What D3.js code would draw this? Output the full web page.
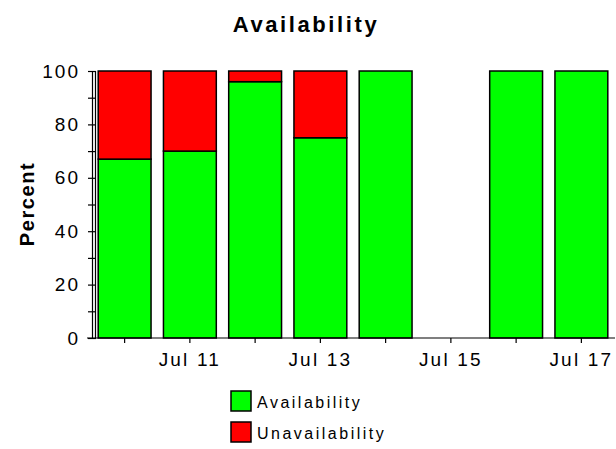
<!DOCTYPE html>
<html>
<head>
<meta charset="utf-8">
<script src="https://cdn.jsdelivr.net/npm/d3@7"></script>
<style>
  html, body { margin: 0; padding: 0; background: #fff; }
  svg { display: block; font-family: "Liberation Sans", Arial, sans-serif; }
</style>
</head>
<body>
<div id="chart"></div>
<script>
// Daily availability, in percent
const days = ['Jul 10', 'Jul 11', 'Jul 12', 'Jul 13', 'Jul 14', 'Jul 15', 'Jul 16', 'Jul 17'];
const availability = [67, 70, 96, 75, 100, 0, 100, 100];
const unavailability = [33, 30, 4, 25, 0, 0, 0, 0];
const labelledDays = ['Jul 11', 'Jul 13', 'Jul 15', 'Jul 17'];
const yTicks = [0, 10, 20, 30, 40, 50, 60, 70, 80, 90, 100];
const seriesNames = ['Availability', 'Unavailability'];
const seriesColors = ['#00ff00', '#ff0000'];

const width = 616, height = 449;
const margin = { top: 71, right: 2, bottom: 111, left: 92 };

const svg = d3.select('#chart').append('svg')
    .attr('width', width)
    .attr('height', height);

const x = d3.scaleBand()
    .domain(days)
    .range([margin.left, width - margin.right])
    .paddingInner(0.19)
    .paddingOuter(0.095);

const y = d3.scaleLinear()
    .domain([0, 100])
    .range([height - margin.bottom, margin.top]);

// title
svg.append('text')
    .attr('x', 306)
    .attr('y', 32)
    .attr('text-anchor', 'middle')
    .attr('font-size', '22px')
    .attr('font-weight', 'bold')
    .attr('letter-spacing', '2.6px')
    .text('Availability');

// y label
svg.append('text')
    .attr('transform', 'translate(34,204) rotate(-90)')
    .attr('text-anchor', 'middle')
    .attr('font-size', '20px')
    .attr('font-weight', 'bold')
    .attr('letter-spacing', '1.6px')
    .text('Percent');

// stacked bars
const rows = days.map((d, i) => ({ day: d, a: availability[i], u: unavailability[i] }));
const stacked = d3.stack().keys(['a', 'u'])(rows);

svg.append('g').selectAll('g')
    .data(stacked)
    .join('g')
    .attr('fill', (s, i) => seriesColors[i])
    .selectAll('rect')
    .data(s => s.filter(v => v[1] - v[0] > 0))
    .join('rect')
    .attr('x', v => x(v.data.day))
    .attr('width', x.bandwidth())
    .attr('y', v => y(v[1]))
    .attr('height', v => y(v[0]) - y(v[1]))
    .attr('stroke', '#000')
    .attr('stroke-width', 1.5);

// y axis
const yAxis = svg.append('g')
    .attr('transform', `translate(${margin.left},0)`)
    .call(d3.axisLeft(y)
        .tickValues(yTicks)
        .tickSize(4)
        .tickSizeOuter(0)
        .tickPadding(8)
        .tickFormat(v => v % 20 === 0 ? v : ''));
yAxis.select('.domain').attr('stroke', '#000').attr('stroke-width', 1.2);
yAxis.selectAll('.tick line').attr('x1', 4).attr('stroke-width', 1.2);
yAxis.selectAll('.tick text')
    .attr('font-size', '19px')
    .attr('letter-spacing', '2px')
    .attr('fill', '#000')
    .attr('font-family', '"Liberation Sans", Arial, sans-serif');
yAxis.append('line')
    .attr('x1', 3.5).attr('x2', 3.5)
    .attr('y1', y(0)).attr('y2', y(100))
    .attr('stroke', '#000')
    .attr('stroke-width', 1.2);

// x axis
const xAxis = svg.append('g')
    .attr('transform', `translate(0,${y(0)})`)
    .call(d3.axisBottom(x)
        .tickSize(5)
        .tickSizeOuter(0)
        .tickPadding(10)
        .tickFormat(d => labelledDays.includes(d) ? d : ''));
xAxis.select('.domain')
    .attr('d', `M${margin.left - 5},0H${width - 1}`)
    .attr('stroke', '#000')
    .attr('stroke-width', 1.2);
xAxis.selectAll('.tick line').attr('stroke-width', 1.2);
xAxis.selectAll('.tick text')
    .attr('font-size', '19px')
    .attr('letter-spacing', '2.2px')
    .attr('fill', '#000')
    .attr('font-family', '"Liberation Sans", Arial, sans-serif');

// legend
const legend = svg.append('g')
    .attr('transform', 'translate(231,391)')
    .selectAll('g')
    .data(seriesNames)
    .join('g')
    .attr('transform', (d, i) => `translate(0,${i * 31})`);
legend.append('rect')
    .attr('width', 20)
    .attr('height', 20)
    .attr('fill', (d, i) => seriesColors[i])
    .attr('stroke', '#000')
    .attr('stroke-width', 1.5);
legend.append('text')
    .attr('x', 26)
    .attr('y', 17)
    .attr('font-size', '16px')
    .attr('letter-spacing', '2.5px')
    .text(d => d);
</script>
</body>
</html>
